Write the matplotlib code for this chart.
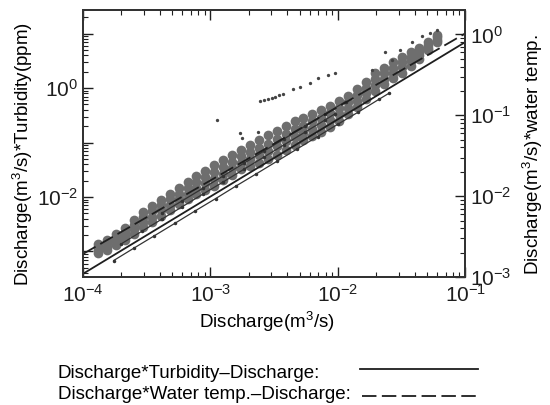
import numpy as np
import matplotlib
matplotlib.use("Agg")
import matplotlib.pyplot as plt
from matplotlib.lines import Line2D
from matplotlib.ticker import LogLocator, NullFormatter

plt.rcParams['font.family'] = ['Liberation Sans', 'DejaVu Sans']
plt.rcParams['mathtext.fontset'] = 'custom'
plt.rcParams['mathtext.rm'] = 'Liberation Sans'
plt.rcParams['mathtext.it'] = 'Liberation Sans:italic'
plt.rcParams['mathtext.bf'] = 'Liberation Sans:bold'

# discharge columns of the dense turbidity cloud (m3/s)
turb_q = [1.32e-4, 1.55e-4, 1.82e-4, 2.14e-4, 2.51e-4, 2.95e-4, 3.47e-4, 4.07e-4,
          4.79e-4, 5.62e-4, 6.61e-4, 7.76e-4, 9.12e-4, 1.07e-3, 1.26e-3, 1.48e-3,
          1.74e-3, 2.04e-3, 2.40e-3, 2.82e-3, 3.31e-3, 3.89e-3, 4.57e-3, 5.37e-3,
          6.31e-3, 7.41e-3, 8.71e-3, 1.02e-2, 1.20e-2, 1.41e-2, 1.66e-2, 1.95e-2,
          2.29e-2, 2.69e-2, 3.16e-2, 3.72e-2, 4.37e-2, 5.13e-2, 6.03e-2]
# discharge*turbidity, read from top to bottom of the cloud
turb_row1 = [1.35e-3, 1.66e-3, 2.09e-3, 2.69e-3, 3.72e-3, 5.25e-3, 6.76e-3, 8.91e-3,
             1.12e-2, 1.45e-2, 1.86e-2, 2.40e-2, 3.02e-2, 3.80e-2, 4.79e-2, 5.89e-2,
             7.41e-2, 9.12e-2, 0.110, 0.135, 0.166, 0.204, 0.245, 0.282,
             0.331, 0.389, 0.468, 0.575, 0.724, 0.955, 1.32, 1.91,
             2.34, 2.95, 3.72, 4.57, 5.50, 7.08, 9.33]
turb_row2 = [1.20e-3, 1.45e-3, 1.78e-3, 2.29e-3, 3.09e-3, 4.27e-3, 5.50e-3, 7.08e-3,
             9.12e-3, 1.15e-2, 1.48e-2, 1.86e-2, 2.29e-2, 2.88e-2, 3.63e-2, 4.47e-2,
             5.62e-2, 6.76e-2, 7.94e-2, 9.55e-2, 0.117, 0.145, 0.178, 0.204,
             0.245, 0.288, 0.347, 0.437, 0.562, 0.741, 1.02, 1.48,
             1.86, 2.34, 2.95, 3.72, 4.68, 6.31, 8.51]
turb_row3 = [1.07e-3, 1.23e-3, 1.55e-3, 1.91e-3, 2.57e-3, 3.47e-3, 4.37e-3, 5.75e-3,
             7.24e-3, 9.33e-3, 1.15e-2, 1.45e-2, 1.78e-2, 2.14e-2, 2.69e-2, 3.39e-2,
             4.27e-2, 5.01e-2, 5.89e-2, 6.92e-2, 8.51e-2, 0.105, 0.126, 0.151,
             0.178, 0.214, 0.257, 0.331, 0.427, 0.575, 0.813, 1.15,
             1.48, 1.91, 2.40, 3.09, 4.07, 5.50, 7.59]
turb_row4 = [9.5e-4, 1.07e-3, 1.32e-3, 1.62e-3, 2.14e-3, 2.82e-3, 3.55e-3, 4.57e-3,
             5.89e-3, 7.41e-3, 9.12e-3, 1.12e-2, 1.35e-2, 1.62e-2, 2.04e-2, 2.57e-2,
             3.24e-2, 3.72e-2, 4.27e-2, 4.90e-2, 6.03e-2, 7.41e-2, 9.12e-2, 0.110,
             0.132, 0.158, 0.191, 0.251, 0.331, 0.447, 0.631, 0.891,
             1.17, 1.51, 1.91, 2.51, 3.47, 4.90, 6.92]

# scattered turbidity points above the cloud
out_q = [2.45e-3, 2.64e-3, 2.84e-3, 3.05e-3, 3.22e-3, 3.47e-3, 3.72e-3, 4.47e-3,
         5.07e-3, 6.07e-3, 7.01e-3, 8.41e-3, 9.55e-3, 1.86e-2, 2.36e-2, 2.67e-2,
         3.09e-2, 3.84e-2, 4.60e-2, 5.32e-2, 6.04e-2, 1.13e-3, 1.71e-3, 1.77e-3, 2.37e-3]
out_v = [0.577, 0.603, 0.628, 0.656, 0.684, 0.744, 0.776, 0.959,
         1.04, 1.24, 1.52, 1.73, 1.88, 2.14, 4.58, 3.26,
         4.98, 6.98, 9.0, 10.2, 11.6, 0.259, 0.149, 0.121, 0.156]

# discharge*water temp. traces (right axis)
wt1_q = [1.74e-4, 2.51e-4, 3.63e-4, 5.25e-4, 7.59e-4, 1.10e-3, 1.58e-3, 2.29e-3,
         3.31e-3, 4.79e-3, 6.92e-3, 1.00e-2, 1.45e-2, 2.09e-2, 2.51e-2]
wt1_v = [1.60e-3, 2.28e-3, 3.24e-3, 4.61e-3, 6.58e-3, 9.35e-3, 1.33e-2, 1.89e-2,
         2.69e-2, 3.84e-2, 5.46e-2, 7.76e-2, 0.110, 0.157, 0.187]
wt2_q = [2.00e-4, 2.88e-4, 4.17e-4, 6.03e-4, 8.71e-4, 1.26e-3, 1.82e-3, 2.63e-3,
         3.80e-3, 5.50e-3, 7.94e-3, 9.55e-3]
wt2_v = [2.58e-3, 3.66e-3, 5.22e-3, 7.43e-3, 1.06e-2, 1.50e-2, 2.14e-2, 3.05e-2,
         4.34e-2, 6.17e-2, 8.77e-2, 0.105]
wt3_q = [4.17e-4, 6.03e-4, 8.71e-4, 1.26e-3, 1.82e-3, 2.63e-3, 3.80e-3, 5.50e-3,
         7.94e-3, 1.15e-2]
wt3_v = [6.19e-3, 8.81e-3, 1.25e-2, 1.78e-2, 2.54e-2, 3.61e-2, 5.14e-2, 7.31e-2,
         0.104, 0.148]

# regression lines
fit_q = [1e-4, 1e-1]
fit_turb = [3.9e-4, 7.0]
fit_temp = [1.93e-3, 1.03]

fig = plt.figure(figsize=(5.5, 4.05), dpi=100)
ax = fig.add_axes([0.151, 0.316, 0.695, 0.659])
ax2 = ax.twinx()

ink = '#1e1e1e'
for row in [turb_row1, turb_row2, turb_row3, turb_row4]:
    ax.plot(turb_q, row, 'o', ms=7, mew=0, color='#6e6e6e')
ax.plot(out_q, out_v, 'o', ms=2.4, mew=0, color='#444444')
ax.plot(fit_q, fit_turb, '-', lw=1.3, color=ink)

for q, v in [(wt1_q, wt1_v), (wt2_q, wt2_v), (wt3_q, wt3_v)]:
    ax2.plot(q, v, '-', lw=0.9, color='#333333', marker='.', ms=3)
ax2.plot(fit_q, fit_temp, lw=1.3, color=ink, dashes=(8, 3))

ax.set_xscale('log')
ax.set_yscale('log')
ax2.set_yscale('log')
ax.set_xlim(1e-4, 1e-1)
ax.set_ylim(3.4e-4, 27)
ax2.set_ylim(1e-3, 2.0)

ax.set_xticks([1e-4, 1e-3, 1e-2, 1e-1])
ax.set_xticklabels(['$10^{-4}$', '$10^{-3}$', '$10^{-2}$', '$10^{-1}$'])
ax.set_yticks([1e-3, 1e-2, 1e-1, 1e0, 1e1])
ax.set_yticklabels(['', '$10^{-2}$', '', '$10^{0}$', ''])
ax2.set_yticks([1e-3, 1e-2, 1e-1, 1e0])
ax2.set_yticklabels(['$10^{-3}$', '$10^{-2}$', '$10^{-1}$', '$10^{0}$'])
for a in (ax.xaxis, ax.yaxis, ax2.yaxis):
    a.set_minor_locator(LogLocator(base=10, subs=np.arange(2, 10), numticks=20))
    a.set_minor_formatter(NullFormatter())

ax.tick_params(which='both', direction='in', top=True, right=False, colors=ink,
               labelsize=15)
ax.tick_params(which='major', length=7, width=1)
ax.tick_params(which='minor', length=3.5, width=0.8)
ax.tick_params(axis='x', pad=5)
ax2.tick_params(which='both', direction='in', colors=ink, labelsize=15)
ax2.tick_params(which='major', length=7, width=1)
ax2.tick_params(which='minor', length=3.5, width=0.8)
for a in (ax, ax2):
    for s in a.spines.values():
        s.set_color('#333333')
        s.set_linewidth(1.4)

ax.set_xlabel('Discharge(m$^3$/s)', fontsize=13.5)
ax.xaxis.set_label_coords(0.48, -0.125)
ax.set_ylabel('Discharge(m$^3$/s)*Turbidity(ppm)', fontsize=13.5)
ax.yaxis.set_label_coords(-0.125, 0.46)
ax2.set_ylabel('Discharge(m$^3$/s)*water temp.', fontsize=13.5)
ax2.yaxis.set_label_coords(1.145, 0.46)

# legend rows under the plot
fig.text(0.105, 0.079, 'Discharge*Turbidity–Discharge:', fontsize=13.5, va='center')
fig.add_artist(Line2D([0.655, 0.869], [0.089, 0.089], lw=1.3, color=ink))
fig.text(0.105, 0.025, 'Discharge*Water temp.–Discharge:', fontsize=13.5, va='center')
fig.add_artist(Line2D([0.658, 0.869], [0.022, 0.022], lw=1.3, color=ink,
                      dashes=(8, 3)))

fig.savefig('out.png', dpi=100)
